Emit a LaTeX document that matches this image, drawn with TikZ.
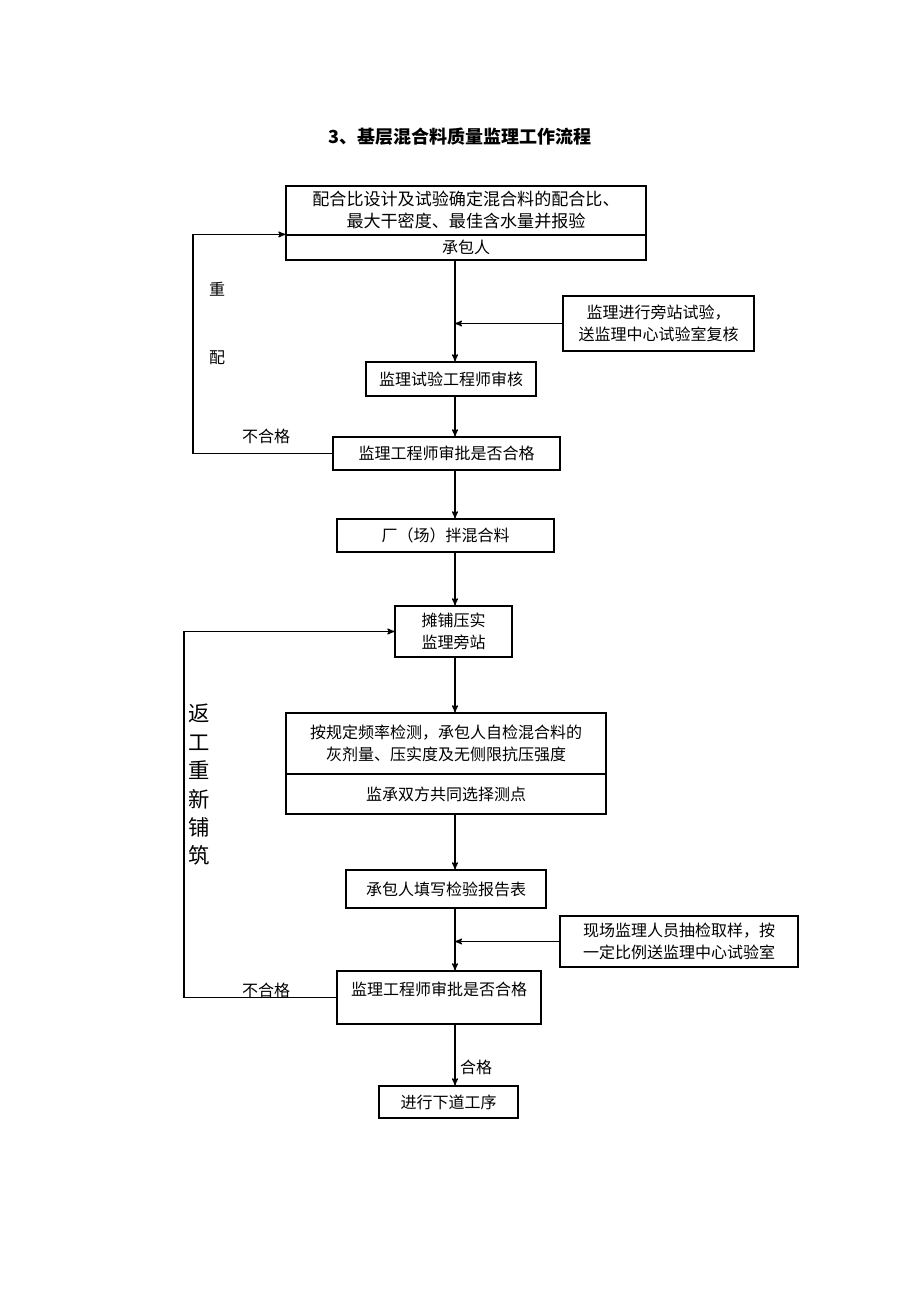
\documentclass[tikz,border=0pt]{standalone}
\usepackage{fontspec}
\setmainfont{Noto Sans CJK SC}
\usepackage{tikz}
\usetikzlibrary{arrows}

\begin{document}
\begin{tikzpicture}[x=0.75pt,y=-0.75pt,font=\fontsize{12}{16.5}\selectfont,line width=0.9pt,
  box/.style={shape=rectangle,draw,inner sep=0pt,align=center},
  flow/.style={->,>=stealth'}]
\useasboundingbox (0,0) rectangle (920,1302);
\coordinate(sp) at (455,0);
\coordinate(ret1) at (193,0);
\coordinate(ret2) at (184,0);
\node(title) at (460,137){\fontsize{13.5}{16}\selectfont\bfseries 3、基层混合料质量监理工作流程};
\node(mixtop)[box,minimum width=270pt,minimum height=36.75pt,font=\fontsize{12.8}{16.5}\selectfont] at (466,210.5){配合比设计及试验确定混合料的配合比、\\最大干密度、最佳含水量并报验};
\node(mixbot)[box,minimum width=270pt,minimum height=18.75pt] at (466,247.5){承包人};
\node(side1)[box,minimum width=143.25pt,minimum height=41.25pt] at (658.5,323.5){监理进行旁站试验，\\送监理中心试验室复核};
\node(labchk)[box,minimum width=127.5pt,minimum height=25.5pt] at (451,379){监理试验工程师审核};
\node(appr1)[box,minimum width=170.25pt,minimum height=24.75pt] at (446.5,453.5){监理工程师审批是否合格};
\node(plant)[box,minimum width=162.75pt,minimum height=24.75pt] at (445.5,535.5){厂（场）拌混合料};
\node(pave)[box,minimum width=87.75pt,minimum height=38.25pt] at (453.5,631.5){摊铺压实\\监理旁站};
\node(testtop)[box,minimum width=240pt,minimum height=45.75pt] at (446,743.5){按规定频率检测，承包人自检混合料的\\灰剂量、压实度及无侧限抗压强度};
\node(testbot)[box,minimum width=240pt,minimum height=30pt] at (446,794){监承双方共同选择测点};
\node(report)[box,minimum width=150pt,minimum height=28.5pt] at (446,889){承包人填写检验报告表};
\node(side2)[box,minimum width=178.5pt,minimum height=38.25pt] at (679,941.5){现场监理人员抽检取样，按\\一定比例送监理中心试验室};
\node(appr2)[box,minimum width=153pt,minimum height=39.75pt,text depth=12.5pt] at (439,997.5){监理工程师审批是否合格};
\node(next)[box,minimum width=104.25pt,minimum height=24pt] at (448.5,1102){进行下道工序};
% main line
\draw[flow] (mixbot.south -| sp)--(labchk.north -| sp);
\draw[flow] (side1.west)--(side1.west -| sp);
\draw[flow] (labchk.south -| sp)--(appr1.north -| sp);
\draw[flow] (appr1.south -| sp)--(plant.north -| sp);
\draw[flow] (plant.south -| sp)--(pave.north -| sp);
\draw[flow] (pave.south -| sp)--(testtop.north -| sp);
\draw[flow] (testbot.south -| sp)--(report.north -| sp);
\draw[flow] (report.south -| sp)--(appr2.north -| sp);
\draw[flow] (side2.west)--(side2.west -| sp);
\draw[flow] (appr2.south -| sp)--(next.north -| sp) node(ok)[pos=0.7,right]{合格};
% back loops
\draw[flow] (appr1.west)--(appr1.west -| ret1)|-(mixbot.north west);
\node(fail1) at (266,436){不合格};
\node(redo1) at (217,289){重};
\node(redo2) at (217,358){配};
\draw[flow] (appr2.west)--(appr2.west -| ret2)|-(pave.west);
\node(fail2) at (266,990){不合格};
\node(rework)[align=center,font=\fontsize{16}{21.3}\selectfont] at (199,785){返\\工\\重\\新\\铺\\筑};
\end{tikzpicture}
\end{document}
